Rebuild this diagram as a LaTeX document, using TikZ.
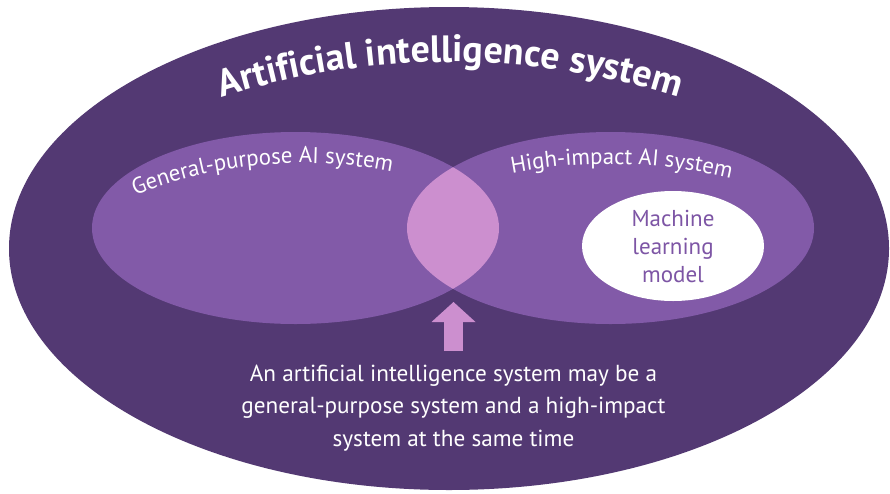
\documentclass[tikz,border=0pt]{standalone}
\usepackage{fontspec}
\setmainfont{PT Sans}
\usetikzlibrary{arrows.meta,shapes.geometric,decorations.text}
\definecolor{outerfill}{HTML}{533973}
\definecolor{setfill}{HTML}{825AA8}
\definecolor{lensfill}{HTML}{CC8FCF}
\definecolor{mlink}{HTML}{7D55A5}
\newcommand{\bodysize}{\fontsize{23.2}{32.5}\selectfont}
\newcommand{\setsize}{\fontsize{22.8}{25}\selectfont}
\newcommand{\titlesize}{\fontsize{38}{42}\selectfont\bfseries}
\newcommand{\mlsize}{\fontsize{23}{28}\selectfont}
\tikzset{
 x=1pt,y=1pt,
 every node/.append style={align=center},
 note/.style={font=\bodysize,text=white,inner sep=0pt},
 mlbox/.style={ellipse,fill=white,minimum width=182,minimum height=110,inner sep=0pt,font=\mlsize,text=mlink},
 pointer/.style={-{Triangle[length=20pt,width=44pt,line width=0pt]},draw=lensfill,fill=lensfill,line width=19pt},
 arctext/.style={decorate,decoration={text along path,#1}},
}

\begin{document}
\begin{tikzpicture}

\useasboundingbox (0,0) rectangle (890,-493);
\fill[white] (0,0) rectangle (890,-493);
% outer system and the two overlapping sets
\fill[outerfill] (449,-248.5) ellipse [x radius=440,y radius=241.5];
\fill[setfill] (295.5,-228) ellipse [x radius=203.5,y radius=96];
\fill[setfill] (610.5,-228) ellipse [x radius=203.5,y radius=96];
\begin{scope}
 \clip (295.5,-228) ellipse [x radius=203.5,y radius=96];
 \fill[lensfill] (610.5,-228) ellipse [x radius=203.5,y radius=96];
\end{scope}
\node[mlbox] (ml) at (673,-246) {Machine\\learning\\model};
% curved labels
\path[arctext={text align=center,text={|\titlesize\color{white}|Artificial intelligence system}}] (450,-815) ++(115:753) arc[start angle=115,end angle=65,radius=753];
\path[arctext={text={|\setsize\color{white}|General-purpose AI system}}] (302.5,-616) ++(111.7:453) arc[start angle=111.7,end angle=60,radius=453];
\path[arctext={text={|\setsize\color{white}|High-impact AI system}}] (609,-684) ++(100.75:520) arc[start angle=100.75,end angle=70,radius=520];
\node[note] (note) at (453.5,-408) {An artificial intelligence system may be a\\general-purpose system and a high-impact\\system at the same time};
\coordinate (tail) at (453.5,-351);
\coordinate (lens) at (453.5,-302);
\draw[pointer] (tail) -- (lens);

\end{tikzpicture}
\end{document}
